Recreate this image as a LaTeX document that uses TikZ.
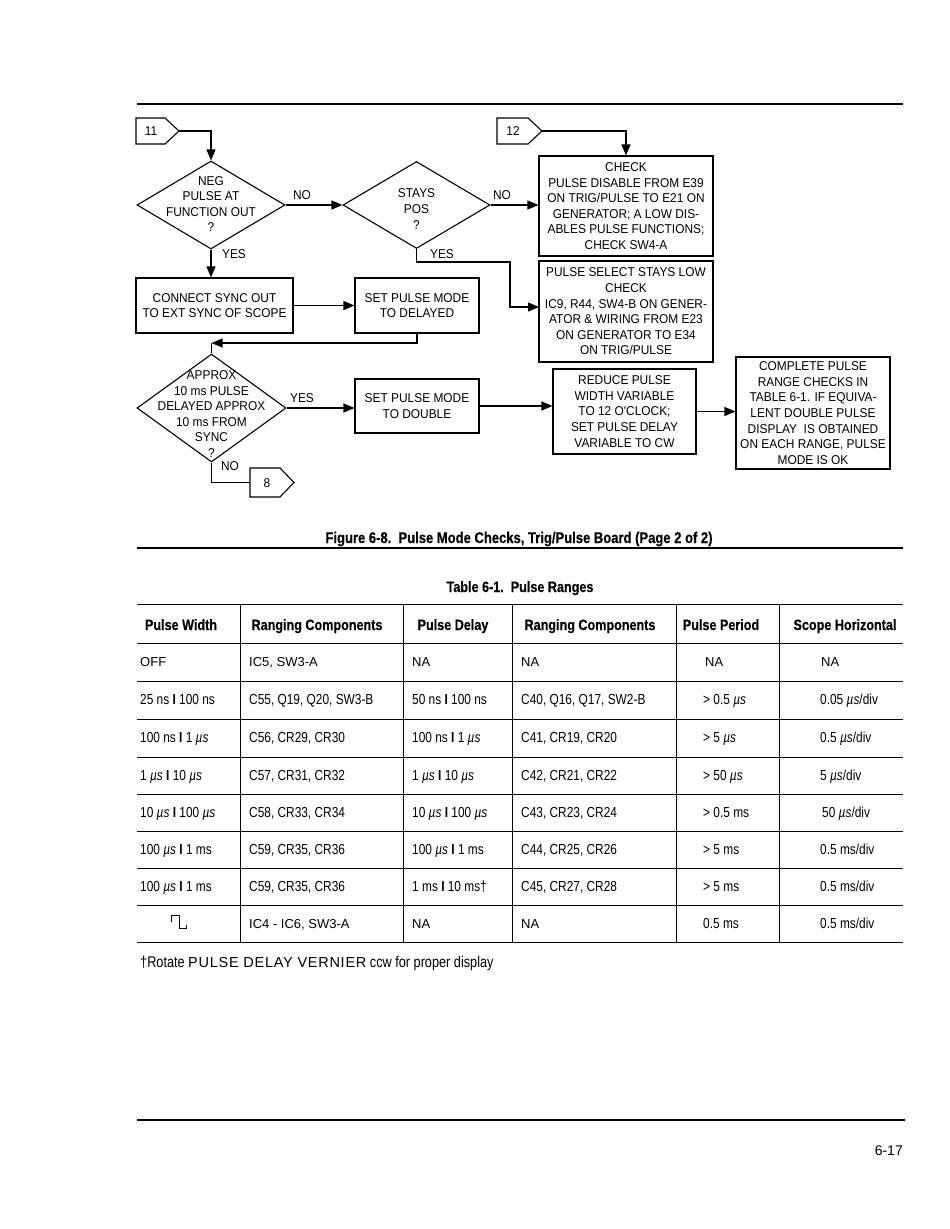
\documentclass[tikz,border=0pt]{standalone}
\usepackage{fontspec}
\setmainfont{Liberation Sans}
\newfontfamily\condf[FakeStretch=0.82]{Liberation Sans}
\newfontfamily\condb[FakeStretch=0.84,FakeBold=0.3]{Liberation Sans Bold}
\newfontfamily\flowf[FakeStretch=0.93]{Liberation Sans}
\newfontfamily\widef[LetterSpace=5]{Liberation Sans}
\usetikzlibrary{arrows.meta,shapes.geometric}
\newcommand{\flowsize}{\flowf\fontsize{12.8}{15.6}\selectfont}
\newcommand{\tabf}{\condf\fontsize{14.5}{16}\selectfont}
\newcommand{\tabr}{\fontsize{13}{16}\selectfont}
\newcommand{\tabh}{\condb\fontsize{15}{16}\selectfont}
\newcommand{\caph}{\condb\fontsize{15.5}{16}\selectfont}
\newcommand{\us}{{\itshape µs}}
\newcommand{\sepbar}{\ {\bfseries I}\ }
\tikzset{
  ln/.style={line width=1.1pt},
  arr/.style={ln,-{Triangle[length=11pt,width=9pt]}},
  fbox/.style={draw,line width=1.1pt,rectangle,inner sep=0pt,align=center,font=\flowsize},
  dia/.style={draw,line width=1.1pt,diamond,inner sep=0pt},
  pent/.style={draw,line width=1.1pt,line join=miter},
  lbl/.style={font=\flowsize,inner sep=0pt,align=center},
  cell/.style={anchor=base west,inner sep=0pt,font=\tabf},
  rcell/.style={anchor=base west,inner sep=0pt,font=\tabr},
  hcell/.style={inner sep=0pt,anchor=base,font=\tabh},
  rule/.style={line width=1.1pt},
  tline/.style={line width=1pt}
}
\begin{document}
\begin{tikzpicture}[x=1pt,y=-1pt]
\path[use as bounding box,fill=white] (0,0) rectangle (950,1229);
% rules
\draw[rule] (137,104) -- (903,104);
% connectors (off-page)
\draw[pent] (136,118) -- (165,118) -- (179,131) -- (165,144) -- (136,144) -- cycle;
\coordinate (c11) at (179,131);
\node[lbl] (t11) at (151,131) {11};
\draw[pent] (497,118) -- (528,118) -- (542,131) -- (528,144) -- (497,144) -- cycle;
\coordinate (c12) at (542,131);
\node[lbl] (t12) at (513,131) {12};
\draw[pent] (250,468) -- (280,468) -- (294,482.5) -- (280,497) -- (250,497) -- cycle;
\coordinate (c8) at (250,482.5);
\node[lbl] (t8) at (267,483) {8};
% diamonds
\node[dia,minimum width=148,minimum height=88] (d1) at (211,205) {};
\node[lbl] (d1t) at (211,204) {NEG\\PULSE AT\\FUNCTION OUT\\?};
\node[dia,minimum width=147,minimum height=87] (d2) at (416.5,205) {};
\node[lbl] (d2t) at (416.5,209) {STAYS\\POS\\?};
\node[dia,minimum width=149,minimum height=108] (d3) at (211.5,408) {};
\node[lbl] (d3t) at (211.5,414) {APPROX\\10 ms PULSE\\DELAYED APPROX\\10 ms FROM\\SYNC\\?};
% boxes
\node[fbox,minimum width=174,minimum height=100] (chk) at (626,206) {CHECK\\PULSE DISABLE FROM E39\\ON TRIG/PULSE TO E21 ON\\GENERATOR; A LOW DIS-\\ABLES PULSE FUNCTIONS;\\CHECK SW4-A};
\node[fbox,minimum width=174,minimum height=101] (psel) at (626,311.5) {PULSE SELECT STAYS LOW\\CHECK\\IC9, R44, SW4-B ON GENER-\\ATOR \& WIRING FROM E23\\ON GENERATOR TO E34\\ON TRIG/PULSE};
\node[fbox,minimum width=157,minimum height=55] (cso) at (214.5,305.5) {CONNECT SYNC OUT\\TO EXT SYNC OF SCOPE};
\node[fbox,minimum width=124,minimum height=55] (del) at (417,305.5) {SET PULSE MODE\\TO DELAYED};
\node[fbox,minimum width=124,minimum height=54] (dbl) at (417,406) {SET PULSE MODE\\TO DOUBLE};
\node[fbox,minimum width=143,minimum height=85] (red) at (624.5,411.5) {REDUCE PULSE\\WIDTH VARIABLE\\TO 12 O'CLOCK;\\SET PULSE DELAY\\VARIABLE TO CW};
\node[fbox,minimum width=154,minimum height=112] (comp) at (813,413) {COMPLETE PULSE\\RANGE CHECKS IN\\TABLE 6-1. IF EQUIVA-\\LENT DOUBLE PULSE\\DISPLAY\ \ IS OBTAINED\\ON EACH RANGE, PULSE\\MODE IS OK};
% connections
\draw[arr] (c11) -| (d1.north);
\draw[arr] (c12) -| (chk.north);
\draw[arr] (d1.east) -- (d2.west);
\draw[arr] (d2.east) -- (d2.east -| chk.west);
\coordinate (y2a) at (510,262);
\coordinate (pin) at (539,307);
\draw[arr] (d2.south) |- (y2a) |- (pin);
\draw[arr] (d1.south) -- (d1.south |- cso.north);
\draw[arr] (cso.east) -- (cso.east -| del.west);
\coordinate (j3) at (211.5,343);
\draw[arr] (del.south) |- (j3);
\draw[ln] (j3) -- (d3.north);
\draw[arr] (d3.east) -- (d3.east -| dbl.west);
\draw[arr] (dbl.east) -- (dbl.east -| red.west);
\draw[arr] (red.east) -- (red.east -| comp.west);
\draw[ln] (d3.south) |- (c8);
% labels
\node[lbl] (l1) at (302,195) {NO};
\node[lbl] (l2) at (502,195) {NO};
\node[lbl] (l3) at (234,254) {YES};
\node[lbl] (l4) at (442,254) {YES};
\node[lbl] (l5) at (302,398) {YES};
\node[lbl] (l6) at (230,466) {NO};
% caption
\node[inner sep=0pt,anchor=base,font=\caph] (cap) at (519,543) {Figure 6-8.\ \ Pulse Mode Checks, Trig/Pulse Board (Page 2 of 2)};
\draw[rule] (137,548) -- (903,548);
\node[hcell] (ttl) at (520,592) {Table 6-1.\ \ Pulse Ranges};
% table lines
\foreach \yy in {604,643,681,719,757,794,831,868,905,942} {\draw[tline] (137,\yy) -- (903,\yy);}
\foreach \xx in {240,403,512,676,779} {\draw[tline] (\xx,604) -- (\xx,942);}
% header
\node[hcell] (h1) at (181,630) {Pulse Width};
\node[hcell] (h2) at (317,630) {Ranging Components};
\node[hcell] (h3) at (453,630) {Pulse Delay};
\node[hcell] (h4) at (590,630) {Ranging Components};
\node[hcell] (h5) at (721,630) {Pulse Period};
\node[hcell] (h6) at (845,630) {Scope Horizontal};
% rows
\node[rcell] (r1a) at (140,666) {OFF};
\node[rcell] (r1b) at (249,666) {IC5, SW3-A};
\node[rcell] (r1c) at (412,666) {NA};
\node[rcell] (r1d) at (521,666) {NA};
\node[rcell] (r1e) at (705,666) {NA};
\node[rcell] (r1f) at (821,666) {NA};
\node[cell] (r2a) at (140,704) {25 ns\sepbar 100 ns};
\node[cell] (r2b) at (249,704) {C55, Q19, Q20, SW3-B};
\node[cell] (r2c) at (412,704) {50 ns\sepbar 100 ns};
\node[cell] (r2d) at (521,704) {C40, Q16, Q17, SW2-B};
\node[cell] (r2e) at (703,704) {> 0.5 \us};
\node[cell] (r2f) at (820,704) {0.05 \us/div};
\node[cell] (r3a) at (140,742) {100 ns\sepbar 1 \us};
\node[cell] (r3b) at (249,742) {C56, CR29, CR30};
\node[cell] (r3c) at (412,742) {100 ns\sepbar 1 \us};
\node[cell] (r3d) at (521,742) {C41, CR19, CR20};
\node[cell] (r3e) at (703,742) {> 5 \us};
\node[cell] (r3f) at (820,742) {0.5 \us/div};
\node[cell] (r4a) at (140,780) {1 \us\sepbar 10 \us};
\node[cell] (r4b) at (249,780) {C57, CR31, CR32};
\node[cell] (r4c) at (412,780) {1 \us\sepbar 10 \us};
\node[cell] (r4d) at (521,780) {C42, CR21, CR22};
\node[cell] (r4e) at (703,780) {> 50 \us};
\node[cell] (r4f) at (820,780) {5 \us/div};
\node[cell] (r5a) at (140,817) {10 \us\sepbar 100 \us};
\node[cell] (r5b) at (249,817) {C58, CR33, CR34};
\node[cell] (r5c) at (412,817) {10 \us\sepbar 100 \us};
\node[cell] (r5d) at (521,817) {C43, CR23, CR24};
\node[cell] (r5e) at (703,817) {> 0.5 ms};
\node[cell] (r5f) at (822,817) {50 \us/div};
\node[cell] (r6a) at (140,854) {100 \us\sepbar 1 ms};
\node[cell] (r6b) at (249,854) {C59, CR35, CR36};
\node[cell] (r6c) at (412,854) {100 \us\sepbar 1 ms};
\node[cell] (r6d) at (521,854) {C44, CR25, CR26};
\node[cell] (r6e) at (703,854) {> 5 ms};
\node[cell] (r6f) at (820,854) {0.5 ms/div};
\node[cell] (r7a) at (140,891) {100 \us\sepbar 1 ms};
\node[cell] (r7b) at (249,891) {C59, CR35, CR36};
\node[cell] (r7c) at (412,891) {1 ms\sepbar 10 ms†};
\node[cell] (r7d) at (521,891) {C45, CR27, CR28};
\node[cell] (r7e) at (703,891) {> 5 ms};
\node[cell] (r7f) at (820,891) {0.5 ms/div};
\draw[line width=1pt] (171,922) -- (171,915) -- (179,915) -- (179,928) -- (186,928) -- (186,925);
\node[rcell] (r8b) at (249,928) {IC4 - IC6, SW3-A};
\node[rcell] (r8c) at (412,928) {NA};
\node[rcell] (r8d) at (521,928) {NA};
\node[cell] (r8e) at (703,928) {0.5 ms};
\node[cell] (r8f) at (820,928) {0.5 ms/div};
% footnote
\node[anchor=base west,inner sep=0pt] (fn) at (140,967) {{\condf\fontsize{15.5}{16}\selectfont †Rotate }{\widef\fontsize{14.5}{16}\selectfont PULSE DELAY VERNIER}{\condf\fontsize{15.5}{16}\selectfont\ ccw for proper display}};
% bottom
\draw[rule] (137,1120) -- (905,1120);
\node[anchor=base east,inner sep=0pt,font=\fontsize{14}{16}\selectfont] (pg) at (903,1155) {6-17};
\end{tikzpicture}
\end{document}
